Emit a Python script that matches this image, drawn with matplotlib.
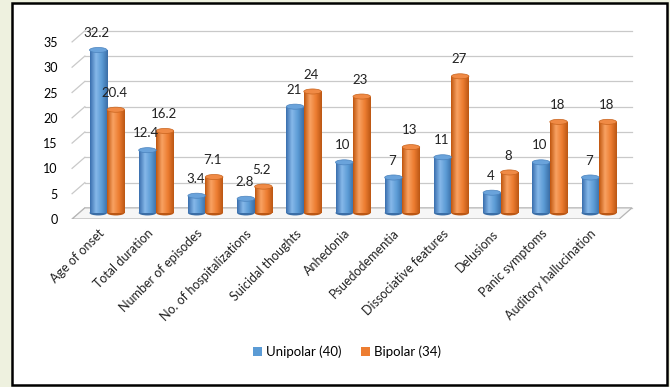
import numpy as np
import matplotlib.pyplot as plt
import matplotlib.transforms as mtransforms
from matplotlib.patches import Rectangle, Ellipse, Polygon
from matplotlib.colors import LinearSegmentedColormap

plt.rcParams['font.family'] = ['Lato', 'DejaVu Sans']

categories = ['Age of onset', 'Total duration', 'Number of episodes',
              'No. of hospitalizations', 'Suicidal thoughts', 'Anhedonia',
              'Psuedodementia', 'Dissociative features', 'Delusions',
              'Panic symptoms', 'Auditory hallucination']
unipolar = [32.2, 12.4, 3.4, 2.8, 21, 10, 7, 11, 4, 10, 7]
bipolar = [20.4, 16.2, 7.1, 5.2, 24, 23, 13, 27, 8, 18, 18]
series_names = ['Unipolar (40)', 'Bipolar (34)']
yticks = [0, 5, 10, 15, 20, 25, 30, 35]

W, H = 670, 387
fig = plt.figure(figsize=(6.7, 3.87), dpi=100)
fig.patch.set_facecolor('#eef1df')
fig.add_artist(Rectangle((12 / W, 2 / H), (667 - 12) / W, (384 - 2) / H,
                         transform=fig.transFigure, facecolor='white',
                         edgecolor='black', lw=1.8, zorder=0))

ax = fig.add_axes([62 / W, 1 - 219 / H, (640 - 62) / W, (219 - 16.6) / H])
ax.patch.set_alpha(0)
ax.set_xlim(-0.915, 10.833)
ax.set_ylim(0, 40)
for s in ax.spines.values():
    s.set_visible(False)

depth = 2.2   # back wall offset (y units)
xl_front, xl_back, xr_back = -0.71, -0.45, 10.67
xr_front = xr_back - (xl_back - xl_front)

# back wall gridlines with little perspective connectors
for t in yticks:
    ax.plot([xl_back, xr_back], [t + depth, t + depth], color='#c9c9c9', lw=0.9, zorder=1)
    ax.plot([xl_front, xl_back], [t, t + depth], color='#c9c9c9', lw=0.9, zorder=1)

# floor
ax.add_patch(Polygon([(xl_front, 0), (xr_front, 0), (xr_back, depth), (xl_back, depth)],
                     closed=True, facecolor='#f6f6f6', edgecolor='#b5b5b5', lw=0.9, zorder=1))
ax.plot([xl_front, xr_front], [-0.35, -0.35], color='#b5b5b5', lw=0.9, zorder=1)

ax.set_yticks(yticks)
ax.set_yticklabels([str(t) for t in yticks], fontsize=9)
ax.tick_params(axis='y', length=0, pad=3)

x = np.arange(len(categories))
w = 0.356
b0 = 1.2

styles = [
    (['#3a6fae', '#86b8e9', '#5b9bd5', '#3b6ea6'], '#6aa3db', '#4a82bd'),
    (['#c0560f', '#f8a262', '#ed7d31', '#bb5714'], '#f08a45', '#c8631d'),
]

for k, vals in enumerate([unipolar, bipolar]):
    cols, topc, edgec = styles[k]
    cmap = LinearSegmentedColormap.from_list('cyl%d' % k, cols)
    xs = x - w / 2 + k * w
    bars = ax.bar(xs, vals, width=w, bottom=b0, color=cols[2], zorder=3,
                  label=series_names[k], linewidth=0)
    grad = np.linspace(0, 1, 64).reshape(1, -1)
    for xi, v, bar in zip(xs, vals, bars):
        ax.add_patch(Ellipse((xi, b0), w, 1.0, facecolor=cols[3], edgecolor='none', zorder=3))
        im = ax.imshow(grad, cmap=cmap, aspect='auto', zorder=3.5,
                       extent=(xi - w / 2, xi + w / 2, b0, b0 + v))
        im.set_clip_path(bar)
        ax.add_patch(Ellipse((xi, b0 + v), w, 1.0, facecolor=topc,
                             edgecolor=edgec, lw=0.5, zorder=4))
        ax.annotate('%g' % v, (xi, b0 + v + 0.5), xytext=(-1, 6),
                    textcoords='offset points', ha='center', va='bottom',
                    fontsize=9.5, color='#222222', zorder=5)

ax.set_xticks(x)
ax.set_xticklabels(categories, rotation=45, ha='right', rotation_mode='anchor',
                   fontsize=9, color='#222222')
ax.tick_params(axis='x', length=0, pad=6)
off = mtransforms.ScaledTranslation(-9 / 100, 0, fig.dpi_scale_trans)
for lab in ax.get_xticklabels():
    lab.set_transform(lab.get_transform() + off)

handles, labels = ax.get_legend_handles_labels()
fig.legend(handles, labels, loc='center', bbox_to_anchor=(347 / W, 1 - 352 / H),
           ncol=2, frameon=False, fontsize=9.5, handlelength=0.7, handleheight=0.7,
           handletextpad=0.3, columnspacing=1.5)

fig.savefig('out.png', dpi=100, facecolor=fig.get_facecolor())
